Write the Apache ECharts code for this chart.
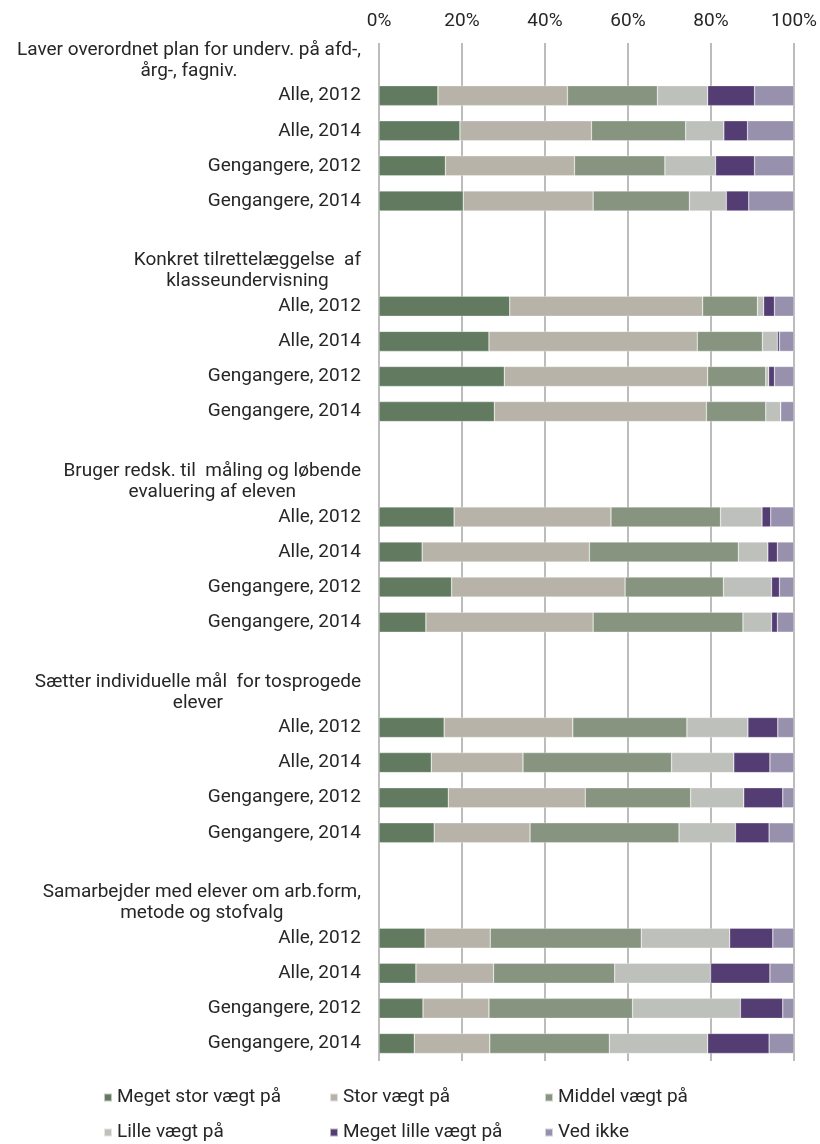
<!DOCTYPE html>
<html>
<head>
<meta charset="utf-8">
<script src="https://cdn.jsdelivr.net/npm/echarts@6/dist/echarts.min.js"></script>
<style>
  html, body { margin: 0; padding: 0; background: #fff; }
  #chart { width: 820px; height: 1144px; }
</style>
</head>
<body>
<div id="chart"></div>
<script>
// group headings (shown as their own row above each block of four bars)
var groups = [
  'Laver overordnet plan for underv. på afd-,\nårg-, fagniv.',
  'Konkret tilrettelæggelse  af\nklasseundervisning',
  'Bruger redsk. til  måling og løbende\nevaluering af eleven',
  'Sætter individuelle mål  for tosprogede\nelever',
  'Samarbejder med elever om arb.form,\nmetode og stofvalg'
];
var rows = ['Alle, 2012', 'Alle, 2014', 'Gengangere, 2012', 'Gengangere, 2014'];

var seriesNames = ['Meget stor vægt på', 'Stor vægt på', 'Middel vægt på',
  'Lille vægt på', 'Meget lille vægt på', 'Ved ikke'];
var colors = ['#627b60', '#b7b3a8', '#879580', '#bec0bb', '#533d72', '#9891ad'];

// percent values, 4 rows per group, 5 groups
var megetStor = [14.2, 19.5, 16.0, 20.3,  31.5, 26.5, 30.2, 27.8,  18.1, 10.4, 17.5, 11.3,  15.7, 12.6, 16.7, 13.3,  11.1, 8.9, 10.6, 8.5];
var stor      = [31.2, 31.7, 31.1, 31.3,  46.5, 50.2, 49.0, 51.1,  37.8, 40.3, 41.8, 40.3,  31.0, 22.1, 33.0, 23.1,  15.7, 18.7, 15.9, 18.2];
var middel    = [21.7, 22.7, 21.8, 23.2,  13.2, 15.7, 14.0, 14.3,  26.4, 35.9, 23.7, 36.1,  27.5, 35.8, 25.4, 35.9,  36.4, 29.2, 34.6, 28.8];
var lille     = [12.1, 9.2, 12.2, 8.9,    1.5, 3.6, 0.7, 3.6,      10.0, 7.1, 11.6, 6.9,    14.7, 15.0, 12.8, 13.6,  21.3, 23.1, 26.0, 23.7];
var megetLille= [11.3, 5.7, 9.4, 5.4,     2.6, 0.5, 1.4, 0.0,      2.1, 2.3, 1.9, 1.4,      7.2, 8.7, 9.4, 8.1,      10.4, 14.3, 10.2, 14.8];
var vedIkke   = [9.5, 11.2, 9.5, 10.9,    4.7, 3.5, 4.7, 3.2,      5.6, 4.0, 3.5, 4.0,      3.9, 5.8, 2.7, 6.0,      5.1, 5.8, 2.7, 6.0];
var xTicks = [0, 20, 40, 60, 80, 100];

var allValues = [megetStor, stor, middel, lille, megetLille, vedIkke];

// build category rows: header, 4 bars, blank (no blank after last group)
var labels = [];
var kinds = [];
var dataIdx = [];
groups.forEach(function (g, gi) {
  labels.push(g); kinds.push('h'); dataIdx.push(-1);
  rows.forEach(function (r, ri) {
    labels.push(r); kinds.push('r'); dataIdx.push(gi * 4 + ri);
  });
  if (gi < groups.length - 1) {
    labels.push(''); kinds.push('b'); dataIdx.push(-1);
  }
});
var cats = labels.map(function (l, i) { return String(i); });

var series = seriesNames.map(function (name, si) {
  return {
    name: name,
    type: 'bar',
    stack: 'total',
    barWidth: 20,
    itemStyle: { color: colors[si], borderColor: 'rgba(255,255,255,0.6)', borderWidth: 0.5 },
    data: dataIdx.map(function (d) { return d < 0 ? '-' : allValues[si][d]; })
  };
});

var font = 'Roboto, "Noto Sans", sans-serif';
var fs = 19;
var textColor = '#262626';

function legendCol(left, items) {
  return {
    data: items,
    orient: 'vertical',
    left: left,
    top: 1088,
    padding: 0,
    itemGap: 16,
    itemWidth: 8,
    itemHeight: 8,
    icon: 'rect',
    textStyle: { fontSize: fs, color: textColor, fontFamily: font }
  };
}

var chart = echarts.init(document.getElementById('chart'));
chart.setOption({
  animation: false,
  textStyle: { fontFamily: font },
  color: colors,
  grid: { left: 379, right: 26, top: 43, bottom: 83 },
  legend: [
    legendCol(103, [seriesNames[0], seriesNames[3]]),
    legendCol(329, [seriesNames[1], seriesNames[4]]),
    legendCol(544, [seriesNames[2], seriesNames[5]])
  ],
  xAxis: {
    type: 'value',
    position: 'top',
    min: 0,
    max: 100,
    interval: 20,
    axisLine: { show: false },
    axisTick: { show: false },
    axisLabel: {
      margin: 12,
      fontSize: fs,
      color: textColor,
      fontFamily: font,
      formatter: function (v) { return xTicks.indexOf(v) >= 0 ? v + '%' : ''; }
    },
    splitLine: { show: true, lineStyle: { color: '#a6a6a6', width: 1.5 } }
  },
  yAxis: {
    type: 'category',
    inverse: true,
    data: cats,
    axisLine: { show: false },
    axisTick: { show: false },
    axisLabel: {
      interval: 0,
      margin: 18,
      fontSize: fs,
      color: textColor,
      fontFamily: font,
      formatter: function (v) {
        var i = +v;
        if (kinds[i] === 'h') return '{h|' + labels[i] + '}';
        return labels[i];
      },
      rich: {
        h: { align: 'center', fontSize: fs, lineHeight: 21, color: textColor, fontFamily: font }
      }
    }
  },
  series: series
});
</script>
</body>
</html>
